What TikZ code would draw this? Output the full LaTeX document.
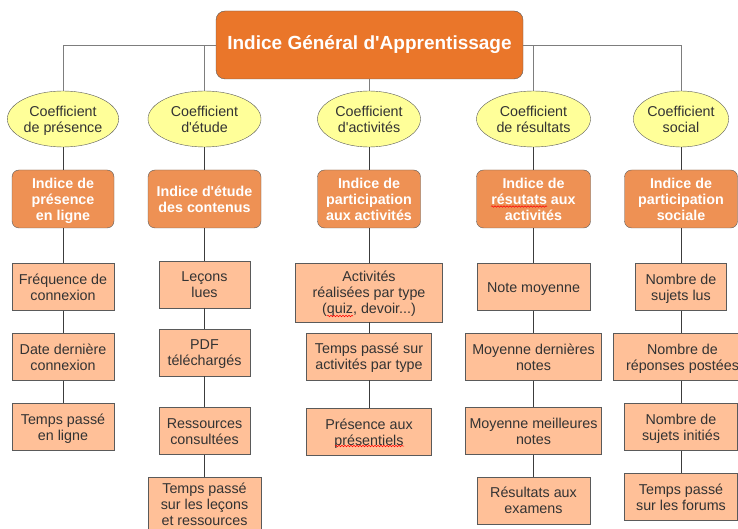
\documentclass[tikz,border=0pt]{standalone}
\usepackage{fontspec}
\setmainfont{Liberation Sans}[Ligatures=TeXOff]
\usetikzlibrary{shapes.geometric,decorations.pathmorphing}
\definecolor{titlec}{RGB}{234,118,42}
\definecolor{indc}{RGB}{238,145,84}
\definecolor{leafc}{RGB}{255,192,152}
\definecolor{ellc}{RGB}{255,255,153}
\definecolor{txtc}{RGB}{51,51,51}
\definecolor{bordc}{RGB}{90,90,90}
\definecolor{linec}{RGB}{60,60,60}
\definecolor{toplinec}{RGB}{125,125,125}
\newcommand{\tx}[2][-2pt]{\raisebox{#1}[\height][\depth]{\begin{tabular}{@{}c@{}}#2\end{tabular}}}
\tikzset{
  titlebox/.style={draw=bordc, fill=titlec, rounded corners=9pt, minimum width=307pt, minimum height=68pt, inner sep=0pt, text=white, font=\fontsize{19}{22}\selectfont\bfseries},
  coef/.style={ellipse, draw=bordc, fill=ellc, minimum height=56pt, inner sep=0pt, text=txtc, font=\fontsize{14.3}{16}\selectfont},
  indbox/.style={draw=bordc, fill=indc, rounded corners=7pt, minimum height=58pt, inner sep=0pt, text=white, font=\fontsize{14.3}{16}\selectfont\bfseries},
  leaf/.style={draw=bordc, fill=leafc, minimum height=47pt, inner sep=0pt, text=txtc, font=\fontsize{14.3}{16}\selectfont},
  conn/.style={draw=linec, line width=0.9pt},
  topconn/.style={draw=toplinec, line width=0.9pt},
  spell/.style={draw=red, line width=0.5pt, decorate, decoration={snake, segment length=3pt, amplitude=0.8pt}}
}
\begin{document}
\begin{tikzpicture}[x=1pt, y=-1pt]
\useasboundingbox (0,0) rectangle (738,529);
\clip (0,0) rectangle (738,529);
% title
\node[titlebox] (title) at (369.5,45) {Indice Général d'Apprentissage};
% coefficients
\node[coef, minimum width=102pt] (e1) at (63,119) {\tx{Coefficient\\de présence}};
\node[coef, minimum width=113pt] (e2) at (204.5,119) {\tx{Coefficient\\d'étude}};
\node[coef, minimum width=103pt] (e3) at (369,119) {\tx{Coefficient\\d'activités}};
\node[coef, minimum width=114pt] (e4) at (533.5,119) {\tx{Coefficient\\de résultats}};
\node[coef, minimum width=92pt] (e5) at (681,119) {\tx{Coefficient\\social}};
% indices
\node[indbox, minimum width=102pt] (i1) at (63,199) {\tx{Indice de\\présence\\en ligne}};
\node[indbox, minimum width=113pt] (i2) at (204.5,199) {\tx{Indice d'étude\\des contenus}};
\node[indbox, minimum width=103pt] (i3) at (369,199) {\tx{Indice de\\participation\\aux activités}};
\node[indbox, minimum width=114pt] (i4) at (533.5,199) {\tx{Indice de\\résutats aux\\activités}};
\node[indbox, minimum width=113pt] (i5) at (681,199) {\tx{Indice de\\participation\\sociale}};
% column 1
\node[leaf, minimum width=102pt] (a1) at (63,286.8) {\tx{Fréquence de\\connexion}};
\node[leaf, minimum width=102pt] (a2) at (63,356.8) {\tx{Date dernière\\connexion}};
\node[leaf, minimum width=102pt] (a3) at (63,427) {\tx{Temps passé\\en ligne}};
% column 2
\node[leaf, minimum width=91pt] (b1) at (204.5,284.2) {\tx{Leçons\\lues}};
\node[leaf, minimum width=91pt] (b2) at (204.5,352.3) {\tx{PDF\\téléchargés}};
\node[leaf, minimum width=91pt] (b3) at (204.5,430.8) {\tx{Ressources\\consultées}};
\node[leaf, minimum width=113.6pt, minimum height=60pt] (b4) at (204.5,506.7) {\tx[0pt]{Temps passé\\sur les leçons\\et ressources}};
% column 3
\node[leaf, minimum width=147pt, minimum height=58.7pt] (c1) at (369,292.7) {\tx{Activités\\réalisées par type\\(quiz, devoir...)}};
\node[leaf, minimum width=125pt] (c2) at (369,356.7) {\tx{Temps passé sur\\activités par type}};
\node[leaf, minimum width=125pt] (c3) at (369,432) {\tx{Présence aux\\présentiels}};
% column 4
\node[leaf, minimum width=113.6pt] (d1) at (533.5,286.8) {\tx{Note moyenne}};
\node[leaf, minimum width=136pt] (d2) at (533.5,356.8) {\tx{Moyenne dernières\\notes}};
\node[leaf, minimum width=136pt] (d3) at (533.5,430.8) {\tx{Moyenne meilleures\\notes}};
\node[leaf, minimum width=113.6pt] (d4) at (533.5,500.2) {\tx{Résultats aux\\examens}};
% column 5
\node[leaf, minimum width=91pt] (f1) at (681,286.8) {\tx{Nombre de\\sujets lus}};
\node[leaf, minimum width=136pt] (f2) at (681,356.8) {\hspace*{3pt}\tx{Nombre de\\réponses postées}};
\node[leaf, minimum width=113pt] (f3) at (681,427) {\tx{Nombre de\\sujets initiés}};
\node[leaf, minimum width=113pt] (f4) at (681,496.8) {\tx{Temps passé\\sur les forums}};
% connectors from title
\draw[topconn] (title.west) -| (e1.north);
\draw[topconn] (title.west) -| (e2.north);
\draw[topconn] (title.south -| e3.north) -- (e3.north);
\draw[topconn] (title.east) -| (e4.north);
\draw[topconn] (title.east) -| (e5.north);
% column connectors
\draw[conn] (e1) -- (i1); \draw[conn] (i1) -- (a1); \draw[conn] (a1) -- (a2); \draw[conn] (a2) -- (a3);
\draw[conn] (e2) -- (i2); \draw[conn] (i2) -- (b1); \draw[conn] (b1) -- (b2); \draw[conn] (b2) -- (b3); \draw[conn] (b3) -- (b4);
\draw[conn] (e3) -- (i3); \draw[conn] (i3) -- (c1); \draw[conn] (c1) -- (c2); \draw[conn] (c2) -- (c3);
\draw[conn] (e4) -- (i4); \draw[conn] (i4) -- (d1); \draw[conn] (d1) -- (d2); \draw[conn] (d2) -- (d3); \draw[conn] (d3) -- (d4);
\draw[conn] (e5) -- (i5); \draw[conn] (i5) -- (f1); \draw[conn] (f1) -- (f2); \draw[conn] (f2) -- (f3); \draw[conn] (f3) -- (f4);
% spell-check underlines
\draw[spell] (327,316) -- (353,316);
\draw[spell] (335,446) -- (404,446);
\draw[spell] (491,206.5) -- (547,206.5);
\end{tikzpicture}
\end{document}
